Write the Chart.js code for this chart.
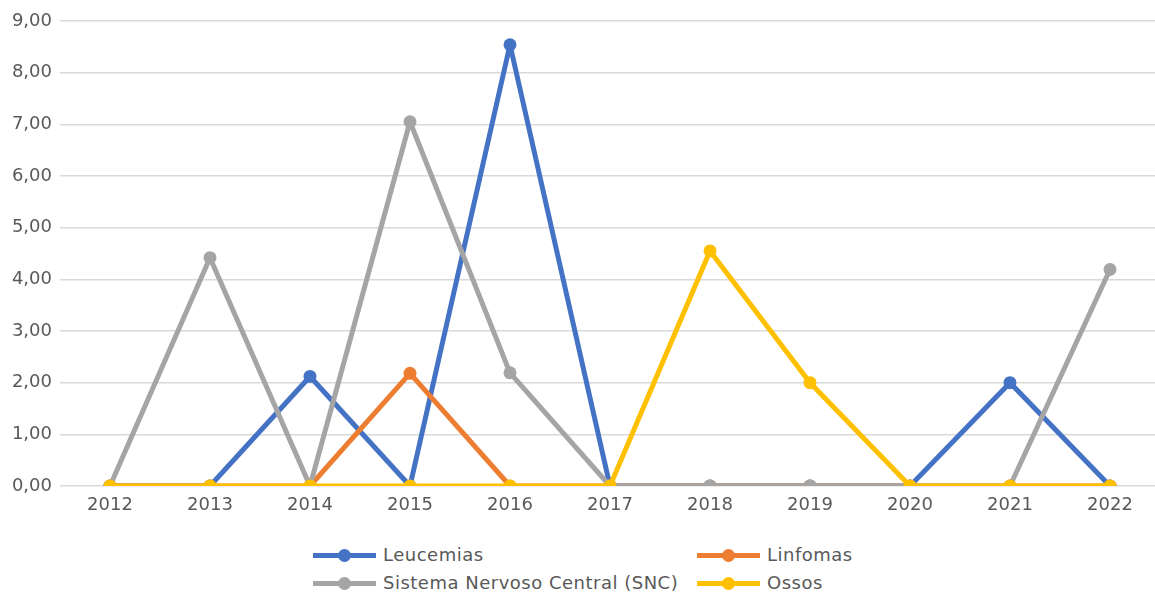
<!DOCTYPE html>
<html>
<head>
<meta charset="utf-8">
<script src="https://cdn.jsdelivr.net/npm/chart.js@4/dist/chart.umd.min.js"></script>
<style>
    html, body { margin: 0; padding: 0; background: #fff; overflow: hidden; }
    #wrap { position: relative; width: 1175px; height: 593px; }
    #box { position: absolute; left: 0; top: 0; width: 1175px; height: 520px; }
    .leg { position: absolute; font-family: "DejaVu Sans", sans-serif; font-size: 18px; letter-spacing: 0.5px; color: #595959; line-height: 20px; }
    .leg .ln { position: absolute; left: 0; top: 8px; width: 63px; height: 5px; }
    .leg .dot { position: absolute; left: 25px; top: 4px; width: 13px; height: 13px; border-radius: 50%; }
    .leg span.t { margin-left: 70px; white-space: nowrap; }
</style>
</head>
<body>
<div id="wrap">
    <div id="box"><canvas id="mycanvas"></canvas></div>
    <div id="legend"></div>
</div>
<script>
var years = ['2012', '2013', '2014', '2015', '2016', '2017', '2018', '2019', '2020', '2021', '2022'];
var seriesNames = ['Leucemias', 'Linfomas', 'Sistema Nervoso Central (SNC)', 'Ossos'];
var Leucemias = [0, 0, 2.12, 0, 8.54, 0, 0, 0, 0, 2.0, 0];
var Linfomas = [0, 0, 0, 2.18, 0, 0, 0, 0, 0, 0, 0];
var SNC = [0, 4.42, 0, 7.05, 2.19, 0, 0, 0, 0, 0, 4.19];
var Ossos = [0, 0, 0, 0, 0, 0, 4.55, 2.0, 0, 0, 0];
var colors = ['#4472c4', '#ed7d31', '#a5a5a5', '#ffc000'];

var allData = [Leucemias, Linfomas, SNC, Ossos];
var datasets = [];
for (var i in allData) {
    datasets.push({
        label: seriesNames[i],
        data: allData[i],
        borderColor: colors[i],
        backgroundColor: colors[i],
        borderWidth: 5,
        borderJoinStyle: 'round',
        borderCapStyle: 'round',
        pointRadius: 6.5,
        pointHoverRadius: 6.5,
        pointBorderWidth: 0,
        tension: 0,
        order: 3 - i
    });
}

var ctx = document.getElementById('mycanvas');
var lineGraph = new Chart(ctx, {
    type: 'line',
    data: { labels: years, datasets: datasets },
    options: {
        responsive: true,
        maintainAspectRatio: false,
        animation: false,
        layout: { padding: { left: 0, right: 15, top: 21, bottom: 0 } },
        plugins: {
            legend: { display: false },
            tooltip: { enabled: false }
        },
        scales: {
            x: {
                offset: true,
                grid: { display: false, drawTicks: false },
                border: { display: false },
                ticks: {
                    color: '#595959',
                    font: { family: 'DejaVu Sans', size: 18 },
                    padding: 9,
                    maxRotation: 0
                },
                afterFit: function (scale) { scale.height = 34; }
            },
            y: {
                min: 0,
                max: 9,
                grid: { color: '#d9d9d9', lineWidth: 1.5, drawTicks: false },
                border: { display: false },
                ticks: {
                    stepSize: 1,
                    color: '#595959',
                    font: { family: 'DejaVu Sans', size: 18 },
                    padding: 8,
                    callback: function (v) { return v.toFixed(2).replace('.', ','); }
                },
                afterFit: function (scale) { scale.width = 60; }
            }
        }
    }
});

// legend: 2 x 2 grid like the original
var legPos = [[313, 545], [697, 545], [313, 573], [697, 573]];
var legend = document.getElementById('legend');
for (var j in seriesNames) {
    var d = document.createElement('div');
    d.className = 'leg';
    d.style.left = legPos[j][0] + 'px';
    d.style.top = legPos[j][1] + 'px';
    d.innerHTML = '<div class="ln" style="background:' + colors[j] + '"></div>' +
        '<div class="dot" style="background:' + colors[j] + '"></div>' +
        '<span class="t">' + seriesNames[j] + '</span>';
    legend.appendChild(d);
}
</script>
</body>
</html>
